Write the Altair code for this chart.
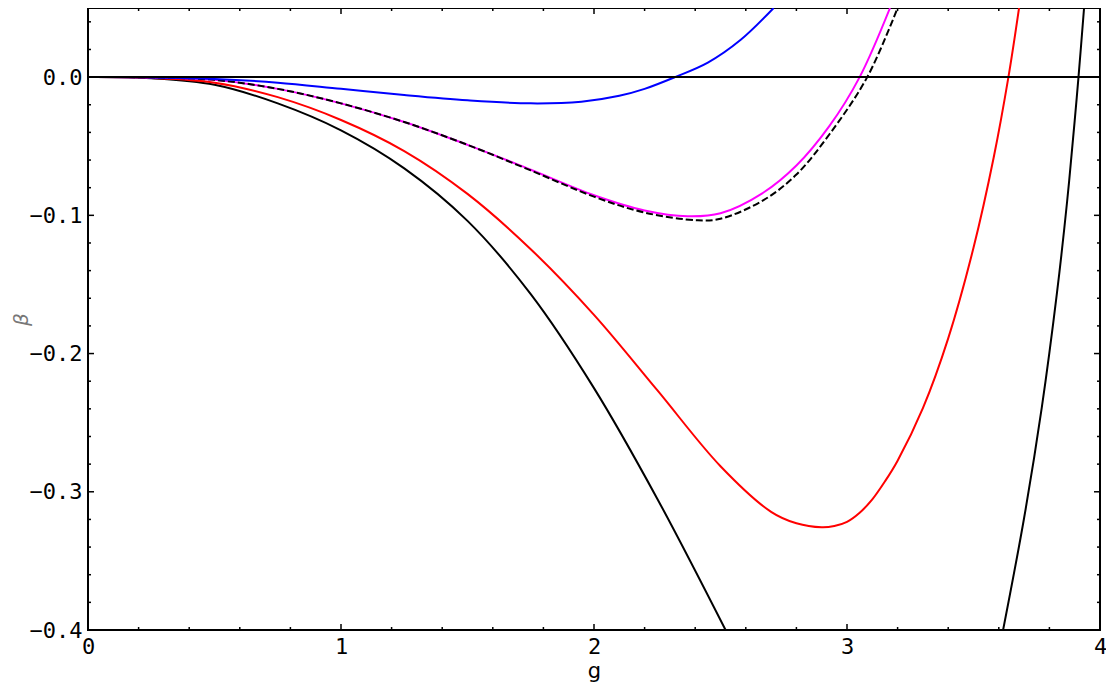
import altair as alt
import pandas as pd

# ---- data ----
blue_g = [0, 0.25, 0.5, 0.75, 1.0, 1.25, 1.5, 1.75, 1.95, 2.1, 2.2, 2.32, 2.45, 2.58, 2.71]
blue_b = [0, -0.0002, -0.0013, -0.004, -0.0085, -0.013, -0.0168, -0.019, -0.0178, -0.0135, -0.0085, 0.0, 0.0105, 0.027, 0.05]

mag_g = [0, 0.25, 0.5, 0.75, 1.0, 1.25, 1.5, 1.75, 2.0, 2.2, 2.37, 2.5, 2.67, 2.8, 2.93, 3.05, 3.17]
mag_b = [0, -0.0002, -0.002, -0.0085, -0.019, -0.0325, -0.049, -0.067, -0.0855, -0.0965, -0.1007, -0.0985, -0.0835, -0.064, -0.0355, 0.0, 0.05]

dash_g = [0, 0.25, 0.5, 0.75, 1.0, 1.25, 1.5, 1.75, 2.0, 2.2, 2.41, 2.5, 2.67, 2.8, 2.93, 3.08, 3.20]
dash_b = [0, -0.0002, -0.002, -0.0085, -0.019, -0.0325, -0.049, -0.0675, -0.0865, -0.098, -0.1036, -0.1025, -0.089, -0.0705, -0.0415, 0.0, 0.05]

red_g = [0, 0.25, 0.5, 0.75, 1.0, 1.25, 1.5, 1.75, 2.0, 2.25, 2.5, 2.7, 2.8, 2.9, 2.95, 3.0, 3.05, 3.1, 3.15, 3.2, 3.3, 3.4, 3.5, 3.58, 3.638, 3.68]
red_b = [0, -0.0006, -0.004, -0.0145, -0.031, -0.0535, -0.0845, -0.1245, -0.172, -0.2265, -0.2815, -0.3145, -0.3228, -0.3257, -0.3248, -0.3218, -0.3152, -0.3055, -0.2925, -0.2775, -0.2395, -0.189, -0.1235, -0.058, 0.0, 0.05]

black1_g = [0, 0.25, 0.5, 0.75, 1.0, 1.25, 1.5, 1.75, 2.0, 2.25, 2.52]
black1_b = [0, -0.0008, -0.0055, -0.019, -0.0385, -0.066, -0.104, -0.157, -0.225, -0.305, -0.400]

black2_g = [3.617, 3.70, 3.77, 3.83, 3.87, 3.90, 3.915, 3.937]
black2_b = [-0.400, -0.319, -0.239, -0.156, -0.090, -0.0315, 0.0, 0.05]

x_major = [0, 1, 2, 3, 4]
x_minor = [0.2, 0.4, 0.6, 0.8, 1.2, 1.4, 1.6, 1.8, 2.2, 2.4, 2.6, 2.8, 3.2, 3.4, 3.6, 3.8]
y_major = [-0.4, -0.3, -0.2, -0.1, 0.0]
y_minor = [-0.38, -0.36, -0.34, -0.32, -0.28, -0.26, -0.24, -0.22, -0.18, -0.16, -0.14, -0.12,
           -0.08, -0.06, -0.04, -0.02, 0.02, 0.04]

series = [
    ("black1", black1_g, black1_b),
    ("black2", black2_g, black2_b),
    ("red", red_g, red_b),
    ("magenta", mag_g, mag_b),
    ("dashed", dash_g, dash_b),
    ("blue", blue_g, blue_b),
]
rows = []
for name, gs, bs in series:
    for g, b in zip(gs, bs):
        rows.append({"series": name, "g": g, "beta": b})
df = pd.DataFrame(rows)

W, H = 1012, 622
xs = alt.Scale(domain=[0, 4], nice=False, zero=False)
ys = alt.Scale(domain=[-0.4, 0.05], nice=False, zero=False)

FONT = "DejaVu Sans Mono"

x_axis = alt.Axis(values=x_major, format="d", domain=False, ticks=False, grid=False,
                  labelFont=FONT, labelFontSize=22, labelColor="black", labelPadding=6,
                  labelFlush=False,
                  title="g", titleFont="DejaVu Sans", titleFontSize=21, titleFontWeight="normal",
                  titleColor="black", titlePadding=3)
y_axis = alt.Axis(values=y_major, domain=False, ticks=False, grid=False,
                  labelExpr="datum.value == 0 ? '0.0' : '\u22120.' + format(abs(datum.value) * 10, '.0f')",
                  labelFont=FONT, labelFontSize=22, labelColor="black", labelPadding=6,
                  labelFlush=False,
                  title="β", titleFont="DejaVu Sans", titleFontSize=20, titleFontStyle="italic",
                  titleFontWeight="normal", titleColor="#777777", titleX=-67, titleAngle=-90,
                  titleBaseline="middle")


def curve(name, color, dash=None):
    kw = dict(color=color, strokeWidth=2, clip=True, interpolate="catmull-rom")
    if dash is not None:
        kw["strokeDash"] = dash
    return alt.Chart(df).transform_filter(alt.datum.series == name).mark_line(**kw).encode(
        x=alt.X("g:Q", scale=xs, axis=x_axis),
        y=alt.Y("beta:Q", scale=ys, axis=y_axis),
    )


zero = alt.Chart(pd.DataFrame({"z": [0.0]})).mark_rule(color="black", strokeWidth=2).encode(
    y=alt.Y("z:Q", scale=ys, axis=y_axis))

tick_layers = []
for vals, L in ((x_major, 6), (x_minor, 3)):
    d = pd.DataFrame({"v": vals})
    tick_layers.append(alt.Chart(d).mark_rule(color="black", strokeWidth=1.5).encode(
        x=alt.X("v:Q", scale=xs, axis=x_axis), y=alt.value(H), y2=alt.value(H - L)))
    tick_layers.append(alt.Chart(d).mark_rule(color="black", strokeWidth=1.5).encode(
        x=alt.X("v:Q", scale=xs, axis=x_axis), y=alt.value(0), y2=alt.value(L)))
for vals, L in ((y_major, 6), (y_minor, 3)):
    d = pd.DataFrame({"v": vals})
    tick_layers.append(alt.Chart(d).mark_rule(color="black", strokeWidth=1.5).encode(
        y=alt.Y("v:Q", scale=ys, axis=y_axis), x=alt.value(0), x2=alt.value(L)))
    tick_layers.append(alt.Chart(d).mark_rule(color="black", strokeWidth=1.5).encode(
        y=alt.Y("v:Q", scale=ys, axis=y_axis), x=alt.value(W), x2=alt.value(W - L)))

chart = alt.layer(
    curve("black1", "black"),
    curve("black2", "black"),
    curve("red", "#ff0000"),
    curve("magenta", "#ff00ff"),
    curve("dashed", "black", dash=[7, 3]),
    curve("blue", "#0000ff"),
    zero,
    *tick_layers,
).properties(
    width=W, height=H,
    autosize=alt.AutoSizeParams(type="none"),
    padding={"left": 80, "top": 0, "right": 6, "bottom": 56},
).configure_view(stroke="black", strokeWidth=2)

chart.save("out.html", embed_options={"renderer": "svg", "actions": False})
